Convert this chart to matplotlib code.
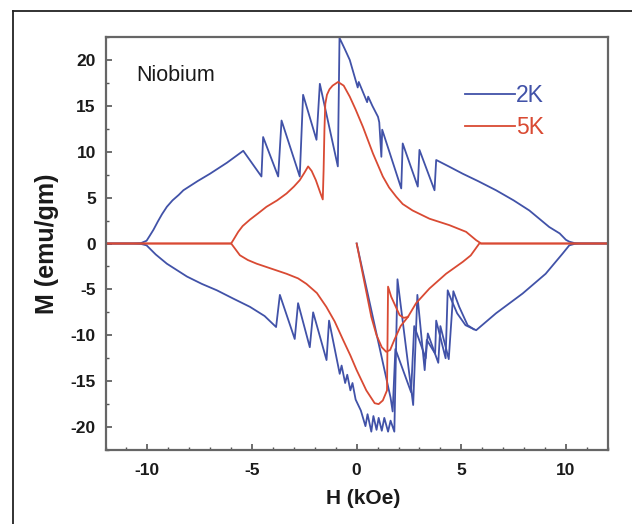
import matplotlib
matplotlib.use("Agg")
import matplotlib.pyplot as plt
from matplotlib.ticker import MultipleLocator
from matplotlib.lines import Line2D

plt.rcParams['font.family'] = ['Liberation Sans', 'DejaVu Sans']
plt.rcParams['axes.unicode_minus'] = False

# ---- 2 K loop (H in kOe, M in emu/gm) ----
h2k_upper = [12.0, 10.8, 10.4, 10.16, 10.0, 9.7, 9.2, 8.25, 7.5, 6.66, 5.8, 5.07, 4.4, 3.80, 3.72,
             3.00, 2.92, 2.20, 2.13, 1.22, 1.18, 1.08, 1.02, 0.75, 0.55, 0.50, 0.10, 0.05, -0.33,
             -0.57, -0.82, -0.90, -1.76, -1.92, -2.56, -2.72, -3.59, -3.75, -4.47, -4.55, -5.42,
             -6.2, -7.01, -7.6, -8.28, -8.5, -8.8, -9.07, -9.3, -9.5, -9.71, -9.9, -10.04, -10.3,
             -10.8, -12.0]
m2k_upper = [0.0, 0.0, 0.05, 0.2, 0.4, 1.1, 1.8, 3.6, 4.7, 5.8, 6.8, 7.6, 8.4, 9.1, 5.8,
             10.2, 6.2, 10.9, 6.0, 12.4, 9.45, 13.2, 13.8, 15.0, 16.0, 15.4, 17.6, 17.0, 20.0,
             21.2, 22.4, 8.4, 17.4, 11.3, 16.2, 7.3, 13.4, 7.3, 11.6, 7.3, 10.1,
             8.8, 7.6, 6.8, 5.8, 5.3, 4.7, 4.0, 3.2, 2.4, 1.5, 0.8, 0.3, 0.05,
             0.0, 0.0]

h2k_lower = [-12.0, -10.8, -10.3, -10.04, -9.6, -9.07, -8.11, -7.4, -6.68, -5.9, -5.1, -4.4, -3.85,
             -3.67, -2.96, -2.80, -2.24, -2.08, -1.44, -1.32, -0.81, -0.72, -0.55, -0.45, -0.30,
             -0.20, -0.05, 0.20, 0.42, 0.52, 0.70, 0.80, 0.95, 1.05, 1.20, 1.32, 1.50, 1.62, 1.80,
             1.95, 2.70, 2.90, 3.25, 3.35, 3.75, 3.80, 4.25, 4.35, 4.50, 4.80, 5.20, 5.71, 6.66,
             7.93, 9.03, 9.84, 10.16, 10.4, 10.8, 12.0]
m2k_lower = [0.0, 0.0, -0.05, -0.2, -1.2, -2.2, -3.6, -4.4, -5.1, -6.0, -6.9, -7.9, -9.1,
             -5.6, -10.4, -6.5, -11.3, -7.5, -12.7, -8.4, -14.2, -13.3, -15.2, -14.3, -16.0,
             -15.2, -17.0, -18.2, -19.9, -18.6, -20.5, -18.8, -20.3, -19.0, -20.4, -19.0, -20.5, -19.3, -20.5,
             -3.9, -17.6, -5.6, -13.8, -10.5, -12.0, -8.4, -12.5, -5.1, -6.0, -7.6, -8.9, -9.45, -7.6,
             -5.45, -3.3, -1.1, -0.2, -0.05, 0.0, 0.0]

h2k_virgin = [0.0, 1.62, 1.72, 1.85, 2.60, 2.75, 3.30, 3.40, 3.90, 4.00, 4.40, 4.62, 4.90, 5.30, 5.60]
m2k_virgin = [0.0, -16.8, -18.3, -11.5, -16.2, -9.0, -12.5, -9.8, -13.0, -9.0, -12.6, -5.2, -6.9, -8.9, -9.35]

# ---- 5 K loop ----
h5k_upper = [12.0, 5.95, 5.71, 5.23, 4.43, 3.48, 2.67, 2.2, 1.89, 1.55, 1.25, 0.78, 0.30, -0.05,
             -0.33, -0.62, -0.89, -1.15, -1.30, -1.42, -1.50, -1.54, -1.58, -1.62, -1.75, -1.95,
             -2.15, -2.32, -2.5, -2.72, -3.0, -3.35, -3.8, -4.31, -4.7, -5.10, -5.45, -5.66,
             -5.90, -6.0, -12.0]
m5k_upper = [0.0, 0.0, 0.36, 1.27, 2.0, 2.7, 3.6, 4.3, 5.1, 6.1, 7.3, 9.8, 12.7, 14.6,
             16.0, 17.2, 17.6, 17.2, 16.8, 16.2, 15.2, 12.4, 8.0, 4.8, 5.6, 6.9,
             7.9, 8.4, 7.7, 6.9, 6.2, 5.45, 4.7, 4.0, 3.3, 2.6, 1.9, 1.27,
             0.36, 0.0, 0.0]

h5k_lower = [-12.0, -6.0, -5.98, -5.58, -5.2, -4.78, -4.0, -3.35, -2.8, -2.40, -1.9, -1.45, -1.05,
             -0.65, -0.3, 0.0, 0.46, 0.86, 1.05, 1.25, 1.45, 1.50, 1.65, 2.05, 2.25, 2.45, 2.84,
             3.48, 4.27, 5.07, 5.45, 5.63, 5.86, 12.0]
m5k_lower = [0.0, 0.0, -0.05, -1.28, -1.8, -2.2, -2.8, -3.3, -3.8, -4.4, -5.4, -6.9, -8.5,
             -10.5, -12.2, -13.8, -16.0, -17.4, -17.5, -17.1, -16.0, -4.7, -5.8, -7.8, -8.1, -8.0, -6.5,
             -4.9, -3.3, -2.0, -1.3, -0.73, 0.0, 0.0]

h5k_virgin = [0.0, 0.70, 0.95, 1.20, 1.41, 1.60, 1.80, 2.10, 2.45]
m5k_virgin = [0.0, -8.0, -10.0, -11.3, -11.8, -11.6, -10.5, -9.0, -8.0]

blue = '#4152a8'
red = '#d94a33'

fig = plt.figure(figsize=(6.32, 5.24), dpi=100)
ax = fig.add_axes([0.167, 0.1412, 0.7947, 0.7882])

# outer frame of the figure panel
fig.add_artist(Line2D([13 / 632, 13 / 632], [0, 1 - 11 / 524], transform=fig.transFigure,
                      color='#222222', lw=1.3))
fig.add_artist(Line2D([13 / 632, 1], [1 - 11 / 524, 1 - 11 / 524], transform=fig.transFigure,
                      color='#222222', lw=1.3))

lw = 1.3
ax.plot(h2k_upper, m2k_upper, color=blue, lw=lw, label='2K')
ax.plot(h2k_lower, m2k_lower, color=blue, lw=lw)
ax.plot(h2k_virgin, m2k_virgin, color=blue, lw=lw)
ax.plot(h5k_upper, m5k_upper, color=red, lw=lw, label='5K')
ax.plot(h5k_lower, m5k_lower, color=red, lw=lw)
ax.plot(h5k_virgin, m5k_virgin, color=red, lw=lw)

ax.set_xlim(-12, 12)
ax.set_ylim(-22.5, 22.5)
ax.xaxis.set_major_locator(MultipleLocator(5))
ax.xaxis.set_minor_locator(MultipleLocator(1))
ax.yaxis.set_major_locator(MultipleLocator(5))
ax.yaxis.set_minor_locator(MultipleLocator(2.5))
ax.tick_params(which='both', direction='in', color='#555555', top=False, right=False)
ax.tick_params(which='major', length=4.5, width=1.2, labelsize=12.5, pad=7, labelcolor='#1a1a1a')
ax.tick_params(axis='x', which='major', pad=9)
ax.tick_params(which='minor', length=2.3, width=1.0)
for lab in ax.get_xticklabels() + ax.get_yticklabels():
    lab.set_fontweight('bold')
for sp in ax.spines.values():
    sp.set_color('#666666')
    sp.set_linewidth(1.6)

ax.set_xlabel('H (kOe)', fontsize=15, fontweight='bold', color='#1a1a1a', labelpad=8)
ax.xaxis.set_label_coords(0.512, -0.095)
ax.set_ylabel('M (emu/gm)', fontsize=18, fontweight='bold', color='#1a1a1a', labelpad=8)

ax.text(-10.55, 19.5, 'Niobium', fontsize=15.5, color='#1a1a1a', va='top', ha='left')

leg = ax.legend(loc='center left', bbox_to_anchor=(0.674, 0.82), frameon=False,
                handlelength=2.2, handletextpad=0.05, labelspacing=0.42, fontsize=16.5,
                labelcolor='linecolor')

fig.savefig('out.png', dpi=100)
